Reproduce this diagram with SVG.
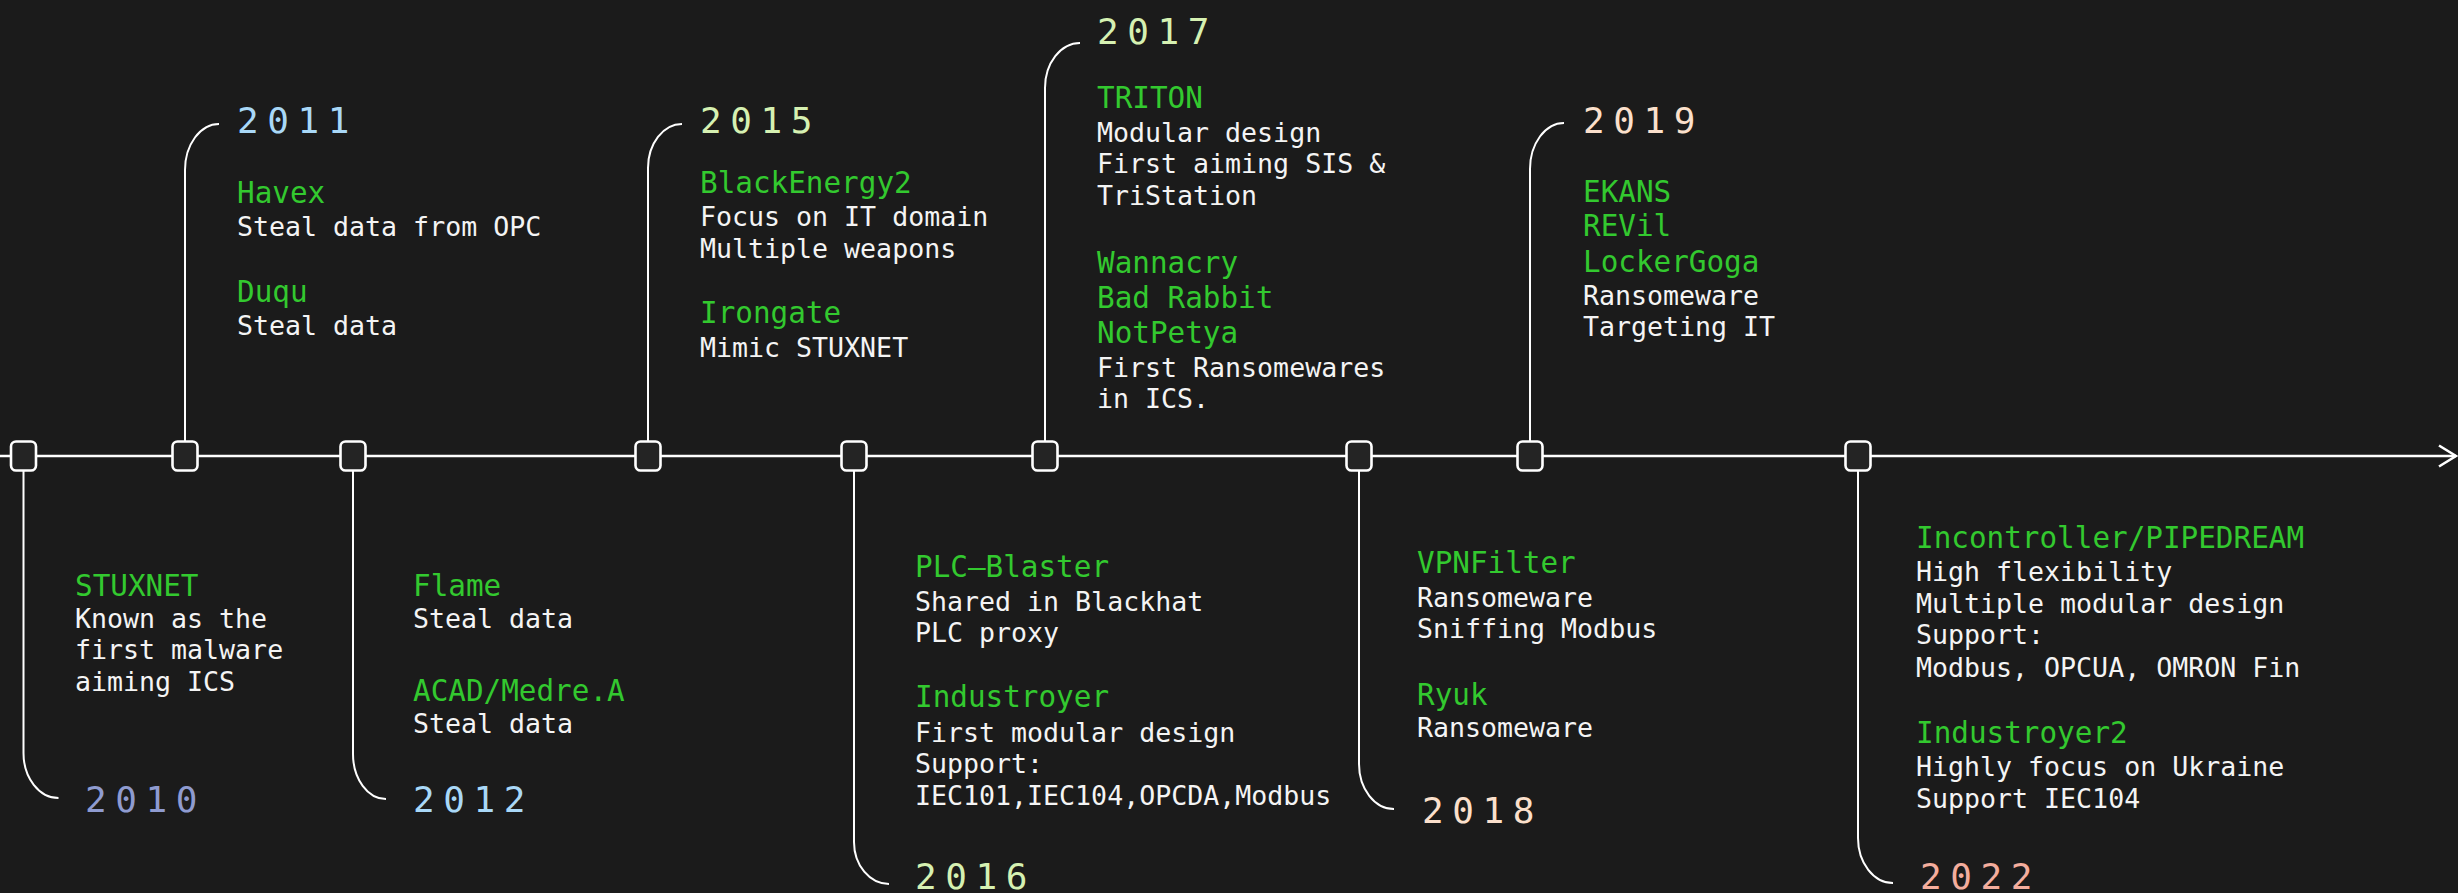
<svg xmlns="http://www.w3.org/2000/svg" width="2458" height="893" viewBox="0 0 2458 893">
  <style>
    .bg { fill: #1b1b1b; }
    .axis { stroke: #ffffff; stroke-width: 2.6; fill: none; }
    .stem { stroke: #ffffff; stroke-width: 2; fill: none; }
    .node { fill: #242424; stroke: #ffffff; stroke-width: 2.6; }
    text { font-family: "DejaVu Sans Mono", "Liberation Mono", monospace; }
    .yr { font-size: 36px; letter-spacing: 8.6px; }
    .name { font-size: 29.3px; fill: #33c92f; }
    .desc { font-size: 26.6px; fill: #f4f4f4; }
    .c2010 { fill: #8f9bd0; }
    .c2011 { fill: #a9d8f7; }
    .c2015 { fill: #d6f1b2; }
    .c2018 { fill: #fbe0cc; }
    .c2022 { fill: #f4ad9d; }
  </style>
  <defs>
    <marker id="arrow" markerWidth="20" markerHeight="24" refX="18" refY="12" orient="auto" markerUnits="userSpaceOnUse">
      <path d="M1,1.5 L18,12 L1,22.5" fill="none" stroke="#ffffff" stroke-width="2.6"/>
    </marker>
  </defs>

  <rect class="bg" x="0" y="0" width="2458" height="893"/>

  <!-- timeline axis and the brackets leading to each year label -->
  <g id="connectors">
    <path class="axis" d="M0,456 H2456" marker-end="url(#arrow)"/>
    <path class="stem" d="M23.5,470 V753 A35,45 0 0 0 58.5,798"/>
    <path class="stem" d="M185,442 V170 A34,46 0 0 1 219,124"/>
    <path class="stem" d="M353,470 V754 A33,45 0 0 0 386,799"/>
    <path class="stem" d="M648,442 V168 A34,44 0 0 1 682,124"/>
    <path class="stem" d="M854,470 V842 A35,42 0 0 0 889,884"/>
    <path class="stem" d="M1045,442 V88 A35,45 0 0 1 1080,43"/>
    <path class="stem" d="M1359,470 V764 A35,45 0 0 0 1394,809"/>
    <path class="stem" d="M1530,442 V169 A34,46 0 0 1 1564,123"/>
    <path class="stem" d="M1858,470 V838 A35,45 0 0 0 1893,883"/>
  </g>

  <g id="y2010">
    <rect class="node" x="11" y="441.5" width="25" height="29" rx="5"/>
    <text class="yr c2010" x="85" y="812">2010</text>
    <text class="name" x="75" y="596">STUXNET</text>
    <text class="desc" x="75" y="628">Known as the</text>
    <text class="desc" x="75" y="659">first malware</text>
    <text class="desc" x="75" y="691">aiming ICS</text>
  </g>

  <g id="y2011">
    <rect class="node" x="172.5" y="441.5" width="25" height="29" rx="5"/>
    <text class="yr c2011" x="237" y="133">2011</text>
    <text class="name" x="237" y="203">Havex</text>
    <text class="desc" x="237" y="236">Steal data from OPC</text>
    <text class="name" x="237" y="302">Duqu</text>
    <text class="desc" x="237" y="335">Steal data</text>
  </g>

  <g id="y2012">
    <rect class="node" x="340.5" y="441.5" width="25" height="29" rx="5"/>
    <text class="yr c2011" x="413" y="812">2012</text>
    <text class="name" x="413" y="596">Flame</text>
    <text class="desc" x="413" y="628">Steal data</text>
    <text class="name" x="413" y="701">ACAD/Medre.A</text>
    <text class="desc" x="413" y="733">Steal data</text>
  </g>

  <g id="y2015">
    <rect class="node" x="635.5" y="441.5" width="25" height="29" rx="5"/>
    <text class="yr c2015" x="700" y="133">2015</text>
    <text class="name" x="700" y="193">BlackEnergy2</text>
    <text class="desc" x="700" y="226">Focus on IT domain</text>
    <text class="desc" x="700" y="258">Multiple weapons</text>
    <text class="name" x="700" y="323">Irongate</text>
    <text class="desc" x="700" y="357">Mimic STUXNET</text>
  </g>

  <g id="y2016">
    <rect class="node" x="841.5" y="441.5" width="25" height="29" rx="5"/>
    <text class="yr c2015" x="915" y="889">2016</text>
    <text class="name" x="915" y="577">PLC–Blaster</text>
    <text class="desc" x="915" y="611">Shared in Blackhat</text>
    <text class="desc" x="915" y="642">PLC proxy</text>
    <text class="name" x="915" y="707">Industroyer</text>
    <text class="desc" x="915" y="742">First modular design</text>
    <text class="desc" x="915" y="773">Support:</text>
    <text class="desc" x="915" y="805">IEC101,IEC104,OPCDA,Modbus</text>
  </g>

  <g id="y2017">
    <rect class="node" x="1032.5" y="441.5" width="25" height="29" rx="5"/>
    <text class="yr c2015" x="1097" y="44">2017</text>
    <text class="name" x="1097" y="108">TRITON</text>
    <text class="desc" x="1097" y="142">Modular design</text>
    <text class="desc" x="1097" y="173">First aiming SIS &amp;</text>
    <text class="desc" x="1097" y="205">TriStation</text>
    <text class="name" x="1097" y="273">Wannacry</text>
    <text class="name" x="1097" y="308">Bad Rabbit</text>
    <text class="name" x="1097" y="343">NotPetya</text>
    <text class="desc" x="1097" y="377">First Ransomewares</text>
    <text class="desc" x="1097" y="408">in ICS.</text>
  </g>

  <g id="y2018">
    <rect class="node" x="1346.5" y="441.5" width="25" height="29" rx="5"/>
    <text class="yr c2018" x="1422" y="823">2018</text>
    <text class="name" x="1417" y="573">VPNFilter</text>
    <text class="desc" x="1417" y="607">Ransomeware</text>
    <text class="desc" x="1417" y="638">Sniffing Modbus</text>
    <text class="name" x="1417" y="705">Ryuk</text>
    <text class="desc" x="1417" y="737">Ransomeware</text>
  </g>

  <g id="y2019">
    <rect class="node" x="1517.5" y="441.5" width="25" height="29" rx="5"/>
    <text class="yr c2018" x="1583" y="133">2019</text>
    <text class="name" x="1583" y="202">EKANS</text>
    <text class="name" x="1583" y="236">REVil</text>
    <text class="name" x="1583" y="272">LockerGoga</text>
    <text class="desc" x="1583" y="305">Ransomeware</text>
    <text class="desc" x="1583" y="336">Targeting IT</text>
  </g>

  <g id="y2022">
    <rect class="node" x="1845.5" y="441.5" width="25" height="29" rx="5"/>
    <text class="yr c2022" x="1920" y="889">2022</text>
    <text class="name" x="1916" y="548">Incontroller/PIPEDREAM</text>
    <text class="desc" x="1916" y="581">High flexibility</text>
    <text class="desc" x="1916" y="613">Multiple modular design</text>
    <text class="desc" x="1916" y="644">Support:</text>
    <text class="desc" x="1916" y="677">Modbus, OPCUA, OMRON Fin</text>
    <text class="name" x="1916" y="743">Industroyer2</text>
    <text class="desc" x="1916" y="776">Highly focus on Ukraine</text>
    <text class="desc" x="1916" y="808">Support IEC104</text>
  </g>
</svg>
